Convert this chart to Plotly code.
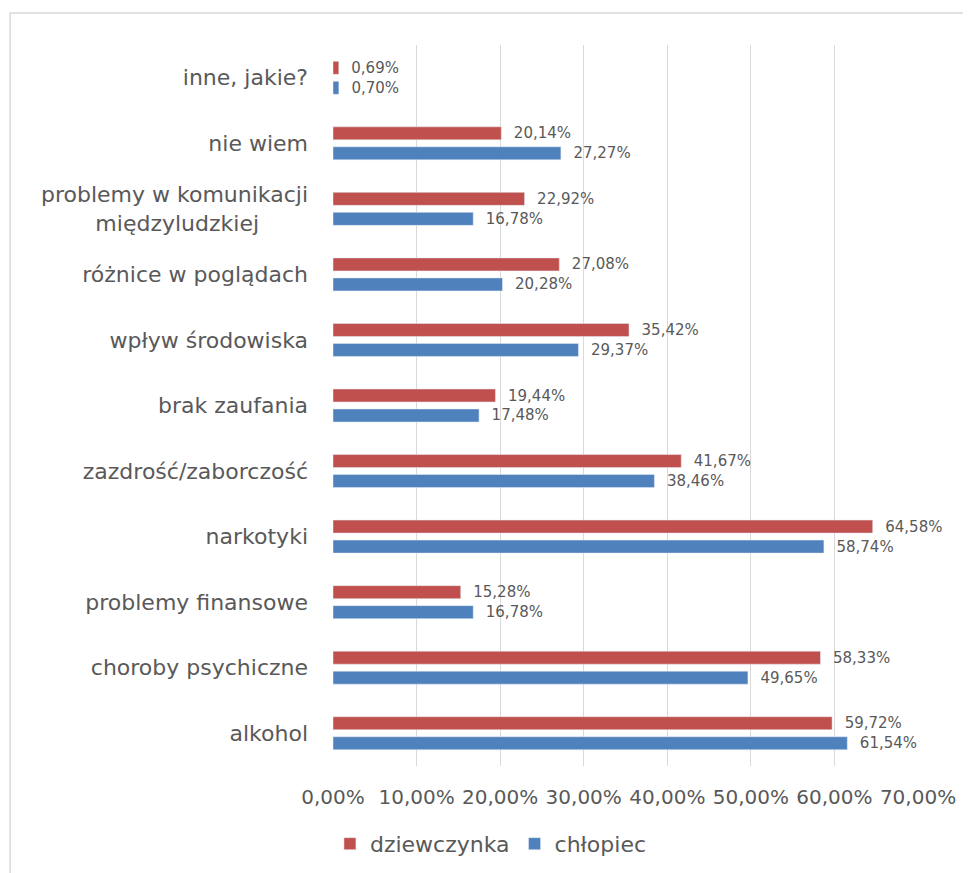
import plotly.graph_objects as go

NB = "&nbsp;" * 7
categories = ["alkohol", "choroby psychiczne", "problemy finansowe", "narkotyki",
              "zazdrość/zaborczość", "brak zaufania", "wpływ środowiska",
              "różnice w poglądach",
              "problemy w komunikacji<br>międzyludzkiej" + NB,
              "nie wiem", "inne, jakie?"]
chlopiec = [61.54, 49.65, 16.78, 58.74, 38.46, 17.48, 29.37, 20.28, 16.78, 27.27, 0.70]
dziewczynka = [59.72, 58.33, 15.28, 64.58, 41.67, 19.44, 35.42, 27.08, 22.92, 20.14, 0.69]
x_ticks = [0, 0.1, 0.2, 0.3, 0.4, 0.5, 0.6, 0.7]

GRAY = "#595959"
FONT = "DejaVu Sans, sans-serif"

fig = go.Figure()
# first trace sits lower in each group, so boys go in first
fig.add_trace(go.Bar(
    name="chłopiec", y=categories, x=[v / 100 for v in chlopiec], orientation="h",
    marker_color="#4F81BD", texttemplate="  %{x:.2%}", textposition="outside",
    constraintext="none",
    textfont=dict(size=15, color=GRAY, family=FONT), cliponaxis=False,
))
fig.add_trace(go.Bar(
    name="dziewczynka", y=categories, x=[v / 100 for v in dziewczynka], orientation="h",
    marker_color="#C0504D", texttemplate="  %{x:.2%}", textposition="outside",
    constraintext="none",
    textfont=dict(size=15, color=GRAY, family=FONT), cliponaxis=False,
))

# page body has an 8px margin, so the figure is 8px smaller than the window
fig.update_layout(
    width=963, height=865,
    margin=dict(l=325, r=53, t=37, b=107, autoexpand=False),
    paper_bgcolor="white", plot_bgcolor="white",
    separators=", ",
    barmode="group", bargap=0.39, bargroupgap=0.35,
    font=dict(family=FONT, color=GRAY, size=20),
    showlegend=True,
    legend=dict(orientation="h", x=0.27, xanchor="center", y=-0.108, yanchor="middle",
                traceorder="reversed", font=dict(size=22, color=GRAY)),
    xaxis=dict(range=[0, 0.7], tickvals=x_ticks, tickformat=".2%", automargin=False,
               showgrid=True, gridcolor="#D9D9D9", gridwidth=1.3,
               zeroline=False, showline=False, ticks="",
               tickfont=dict(size=20, color=GRAY), ticklabelstandoff=17),
    yaxis=dict(showgrid=False, zeroline=False, showline=False, ticks="", automargin=False,
               tickfont=dict(size=22, color=GRAY), ticklabelstandoff=24),
    shapes=[dict(type="rect", xref="paper", yref="paper",
                 x0=-0.552, x1=1.2, y0=-0.2, y1=1.0444,
                 line=dict(color="#D9D9D9", width=1.5), layer="below")],
)

fig.write_html("out.html")
